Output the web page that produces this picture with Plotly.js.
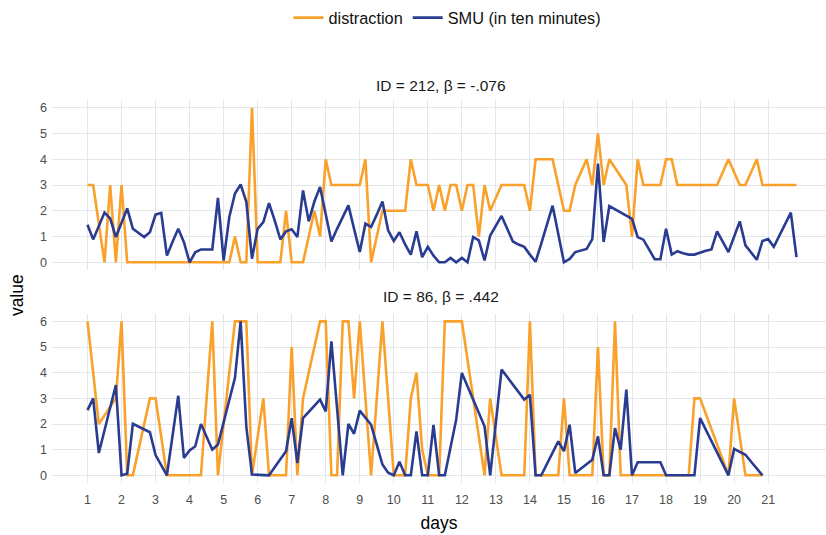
<!DOCTYPE html>
<html><head><meta charset="utf-8">
<script src="https://cdn.plot.ly/plotly-3.0.1.min.js"></script>
<style>html,body{margin:0;padding:0;background:#fff}#chart{width:826px;height:535px}</style>
</head><body><div id="chart"></div><script>
// Six readings per day; null = missing reading (line is joined across it)
const readingsPerDay = 6;
const dayTicks = [1,2,3,4,5,6,7,8,9,10,11,12,13,14,15,16,17,18,19,20,21];
const valueTicks = [0,1,2,3,4,5,6];
const panelTitles = ['ID = 212, \u03b2 = -.076', 'ID = 86, \u03b2 = .442'];
const seriesNames = ['distraction', 'SMU (in ten minutes)'];

// Panel 1: ID 212
const distractionTop = [
 3,3,null,0,3,0,3,0,0,0,
 0,0,0,0,0,0,0,0,0,0,
 0,0,0,0,0,0,1,0,0,6,
 0,0,0,0,0,2,0,0,0,1,
 2,1,4,3,3,3,3,3,3,4,
 0,1,2,2,2,2,2,4,3,3,
 3,2,3,2,3,3,2,3,3,1,
 3,2,null,3,3,3,3,3,2,4,
 4,4,4,3,2,2,3,null,4,3,
 5,3,4,null,null,3,1,4,3,3,
 3,3,4,4,3,3,3,3,3,3,
 3,3,null,4,null,3,3,null,4,3,
 3,3,3,3,3,3];
const smuTop = [
 1.46,0.89,null,1.93,1.7,0.98,1.55,2.09,1.3,1.15,
 0.98,1.17,1.85,1.92,0.26,0.8,1.3,0.78,0,0.39,
 0.5,0.5,0.5,2.5,0.07,1.76,2.67,3.02,2.35,0.14,
 1.3,1.56,2.3,1.63,0.89,1.2,1.28,0.98,2.79,1.59,
 2.36,2.92,1.87,0.81,1.3,1.75,2.21,1.3,0.4,1.5,
 1.37,1.85,2.36,1.24,0.83,1.17,0.7,0.3,1.2,0.2,
 0.6,0.26,0,0,0.17,0,0.17,0,0.98,0.85,
 0.07,1.04,null,1.8,1.3,0.81,0.69,0.6,0.3,0.02,
 0.73,1.47,2.2,1.1,0,0.13,0.4,null,0.52,0.9,
 3.83,0.79,2.18,null,null,1.8,1.69,0.98,0.88,0.5,
 0.12,0.12,1.3,0.3,0.43,0.35,0.3,0.3,0.38,0.45,
 0.5,1.2,null,0.4,null,1.59,0.66,null,0.1,0.83,
 0.9,0.6,1.05,1.5,1.93,0.2];

// Panel 2: ID 86
const distractionBottom = [
 6,4,2,null,null,3,6,0,0,1,
 2,3,3,null,0,0,0,0,0,0,
 0,3,6,0,2,4,6,6,6,0,
 null,3,0,0,0,0,5,0,3,4,
 5,6,6,0,0,6,6,3,6,3,
 0,3,6,3,0,0,0,3,4,1,
 0,0,0,6,6,6,6,null,null,null,
 0,3,null,0,0,0,0,0,6,0,
 0,0,0,0,3,0,0,0,0,0,
 5,0,0,6,0,0,0,0,0,0,
 0,0,0,0,0,0,0,3,3,null,
 null,null,null,0,3,null,0,0,0,0];
const smuBottom = [
 2.54,3.0,0.87,null,null,3.52,0,0.06,2.01,1.9,
 1.8,1.68,0.79,null,0,1.55,3.1,0.68,0.97,1.13,
 2.0,1.5,1.0,1.2,2.07,2.93,3.8,6.0,1.9,0.03,
 null,0,0,0.31,0.63,0.94,2.23,0.48,2.23,2.47,
 2.71,2.95,2.49,5.22,2.61,0,2.0,1.62,2.52,2.25,
 1.97,1.2,0.42,0.1,0,0.53,0,0,1.71,0,
 0,1.97,0,0,1.08,2.17,3.99,null,null,null,
 1.91,0,null,4.12,3.83,3.54,3.24,2.95,3.14,0,
 0,0.44,0.88,1.32,0.94,1.97,0.09,0.26,0.44,0.61,
 1.52,0,0,1.84,1.0,3.34,0,0.51,0.51,0.51,
 0.51,0.51,0,0,0,0,0,0,2.23,null,
 null,null,null,0,1.03,null,0.8,0.53,0.27,0];

const timeOf = arr => arr.map((_, i) => 1 + i / readingsPerDay);
const ORANGE = '#F9A12B', BLUE = '#2A3C91', GRID = '#e4e7ea';
const LW = 2.6;

const traces = [
 {x: timeOf(distractionTop), y: distractionTop, xaxis:'x', yaxis:'y', name: seriesNames[0], legendgroup:'d', mode:'lines', connectgaps:true, line:{color:ORANGE, width:LW}},
 {x: timeOf(smuTop), y: smuTop, xaxis:'x', yaxis:'y', name: seriesNames[1], legendgroup:'s', mode:'lines', connectgaps:true, line:{color:BLUE, width:LW}},
 {x: timeOf(distractionBottom), y: distractionBottom, xaxis:'x2', yaxis:'y2', name: seriesNames[0], legendgroup:'d', showlegend:false, mode:'lines', connectgaps:true, line:{color:ORANGE, width:LW}},
 {x: timeOf(smuBottom), y: smuBottom, xaxis:'x2', yaxis:'y2', name: seriesNames[1], legendgroup:'s', showlegend:false, mode:'lines', connectgaps:true, line:{color:BLUE, width:LW}}
];

const tickFont = {family:'Liberation Sans, Arial, sans-serif', size:12.5, color:'#4d4d4d'};
const xBase = {range:[-0.043, 22.70], tickvals: dayTicks, ticktext: dayTicks.map(String), ticks:'', showgrid:true, gridcolor:GRID, gridwidth:1, zeroline:false, showline:false, tickfont:tickFont, fixedrange:true};
const yBase = {range:[-0.3, 6.3], tickvals: valueTicks, ticks:'', showgrid:true, gridcolor:GRID, gridwidth:1, zeroline:false, showline:false, tickfont:tickFont, ticklabelstandoff:4, fixedrange:true};

const layout = {
 width:826, height:535,
 margin:{l:52, r:0, t:100, b:52},
 paper_bgcolor:'#fff', plot_bgcolor:'#fff',
 font:{family:'Liberation Sans, Arial, sans-serif', color:'#000'},
 showlegend:true,
 legend:{orientation:'h', x:0.511, xanchor:'center', y:1.214, yanchor:'middle', font:{size:16.3, color:'#111'}, bgcolor:'rgba(0,0,0,0)', traceorder:'normal', itemwidth:30},
 xaxis: Object.assign({}, xBase, {domain:[0,1], anchor:'y', showticklabels:false}),
 yaxis: Object.assign({}, yBase, {domain:[0.556,1], anchor:'x'}),
 xaxis2: Object.assign({}, xBase, {domain:[0,1], anchor:'y2', showticklabels:true, ticklabelstandoff:7,
   title:{text:'days', font:{size:17.5, color:'#000'}, standoff:11}}),
 yaxis2: Object.assign({}, yBase, {domain:[0,0.442], anchor:'x2'}),
 annotations:[
  {text: panelTitles[0], xref:'paper', yref:'paper', x:0.503, y:1.039, xanchor:'center', yanchor:'middle', showarrow:false, font:{size:15.5, color:'#1a1a1a'}},
  {text: panelTitles[1], xref:'paper', yref:'paper', x:0.503, y:0.486, xanchor:'center', yanchor:'middle', showarrow:false, font:{size:15.5, color:'#1a1a1a'}},
  {text:'value', xref:'paper', yref:'paper', x:-0.045, y:0.491, xanchor:'center', yanchor:'middle', textangle:-90, showarrow:false, font:{size:17.5, color:'#000'}}
 ]
};

Plotly.newPlot('chart', traces, layout, {displayModeBar:false, staticPlot:true});
</script></body></html>
